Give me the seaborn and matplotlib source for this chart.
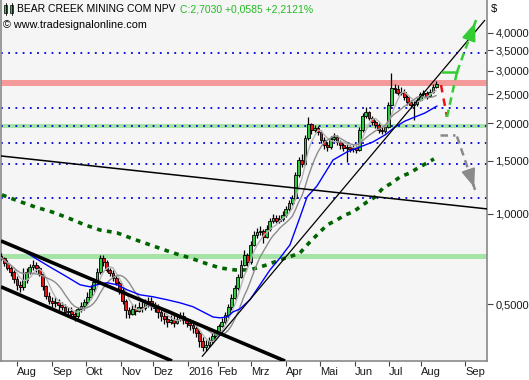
import numpy as np
import pandas as pd
import matplotlib
matplotlib.use('Agg')
import matplotlib.pyplot as plt
import matplotlib.ticker as mticker
from matplotlib.patches import Rectangle
import seaborn as sns

# candles, one every 2 trading days (x unit = trading day, 0 = mid Jul 2015)
first_open = 0.725
closes = [0.714, 0.687, 0.661, 0.641, 0.608, 0.581, 0.572, 0.603, 0.641, 0.666,
          0.677, 0.661, 0.632, 0.576, 0.534, 0.514, 0.506, 0.510, 0.498, 0.491,
          0.472, 0.476, 0.465, 0.458, 0.483, 0.494, 0.510, 0.530, 0.563, 0.594,
          0.641, 0.714, 0.692, 0.651, 0.636, 0.613, 0.590, 0.559, 0.514, 0.479,
          0.465, 0.483, 0.476, 0.491, 0.487, 0.506, 0.514, 0.498, 0.487, 0.472,
          0.458, 0.448, 0.437, 0.444, 0.434, 0.448, 0.458, 0.444, 0.434, 0.427,
          0.418, 0.402, 0.378, 0.361, 0.367, 0.381, 0.393, 0.405, 0.424, 0.437,
          0.461, 0.491, 0.526, 0.567, 0.617, 0.677, 0.731, 0.692, 0.789, 0.851,
          0.871, 0.878, 0.839, 0.891, 0.948, 0.970, 0.948, 0.962, 0.992, 1.039,
          1.088, 1.130, 1.348, 1.512, 1.470, 1.789, 1.992, 1.903, 1.932, 1.874,
          1.762, 1.696, 1.670, 1.776, 1.803, 1.735, 1.696, 1.658, 1.670, 1.645,
          1.658, 1.632, 1.903, 2.118, 2.184, 2.086, 2.023, 1.977, 1.903, 1.888,
          1.947, 2.304, 2.624, 2.604, 2.526, 2.545, 2.450, 2.357, 2.304, 2.322,
          2.394, 2.506, 2.526, 2.468, 2.545, 2.645, 2.703]
highs = [0.74, 0.72, 0.70, 0.67, 0.65, 0.62, 0.60, 0.66, 0.66, 0.68,
         0.70, 0.69, 0.67, 0.64, 0.58, 0.55, 0.53, 0.53, 0.52, 0.51,
         0.50, 0.49, 0.49, 0.48, 0.49, 0.51, 0.52, 0.55, 0.58, 0.61,
         0.66, 0.73, 0.73, 0.70, 0.66, 0.65, 0.62, 0.60, 0.57, 0.52,
         0.49, 0.50, 0.50, 0.51, 0.51, 0.52, 0.53, 0.53, 0.51, 0.50,
         0.48, 0.47, 0.46, 0.46, 0.46, 0.46, 0.47, 0.47, 0.45, 0.44,
         0.44, 0.43, 0.41, 0.39, 0.38, 0.39, 0.40, 0.41, 0.43, 0.45,
         0.47, 0.50, 0.54, 0.58, 0.63, 0.70, 0.76, 0.74, 0.81, 0.88,
         0.90, 0.91, 0.89, 0.92, 0.97, 1.00, 0.99, 0.99, 1.02, 1.06,
         1.11, 1.16, 1.38, 1.55, 1.58, 1.83, 2.10, 2.00, 1.98, 1.96,
         1.90, 1.80, 1.74, 1.82, 1.86, 1.83, 1.76, 1.72, 1.71, 1.70,
         1.69, 1.68, 1.94, 2.16, 2.26, 2.20, 2.12, 2.05, 2.00, 1.95,
         1.98, 2.35, 2.94, 2.70, 2.68, 2.64, 2.60, 2.48, 2.40, 2.37,
         2.43, 2.54, 2.58, 2.56, 2.60, 2.70, 2.76]
lows = [0.70, 0.67, 0.65, 0.62, 0.59, 0.56, 0.55, 0.56, 0.59, 0.63,
        0.65, 0.64, 0.62, 0.56, 0.52, 0.50, 0.49, 0.49, 0.48, 0.48,
        0.46, 0.46, 0.45, 0.44, 0.45, 0.47, 0.48, 0.50, 0.52, 0.55,
        0.58, 0.63, 0.67, 0.64, 0.62, 0.60, 0.58, 0.54, 0.50, 0.45,
        0.45, 0.46, 0.46, 0.47, 0.47, 0.48, 0.49, 0.48, 0.47, 0.45,
        0.44, 0.43, 0.42, 0.43, 0.42, 0.43, 0.44, 0.43, 0.42, 0.41,
        0.40, 0.39, 0.36, 0.35, 0.35, 0.36, 0.37, 0.38, 0.40, 0.42,
        0.43, 0.45, 0.48, 0.52, 0.56, 0.61, 0.67, 0.67, 0.68, 0.78,
        0.83, 0.85, 0.80, 0.83, 0.88, 0.93, 0.93, 0.93, 0.95, 0.98,
        1.02, 1.07, 1.12, 1.33, 1.43, 1.46, 1.76, 1.85, 1.87, 1.83,
        1.72, 1.64, 1.62, 1.65, 1.75, 1.70, 1.65, 1.62, 1.49, 1.61,
        1.61, 1.60, 1.62, 1.88, 2.08, 2.05, 1.98, 1.93, 1.86, 1.85,
        1.86, 1.93, 2.28, 2.52, 2.48, 2.48, 2.40, 2.30, 2.25, 2.05,
        2.28, 2.37, 2.47, 2.42, 2.44, 2.52, 2.62]

# blue moving average
blue_days = [0, 10, 20, 30.6, 41.3, 49.4, 55.6, 61.9, 66.3, 72.5, 78.8, 86.9, 95,
             103.8, 111.9, 120, 126.3, 132.5, 136.9, 141.3, 145, 149.4, 155.6,
             161.9, 168.1, 174.4, 180.6, 186.9, 191.3, 197.5, 207.5, 216.3, 224.4,
             232.5, 240, 246.3, 252.5, 258.8, 265, 272.5]
blue_vals = [0.813, 0.777, 0.720, 0.666, 0.617, 0.581, 0.572, 0.585, 0.590, 0.581,
             0.559, 0.538, 0.530, 0.518, 0.506, 0.491, 0.472, 0.454, 0.451, 0.454,
             0.472, 0.483, 0.518, 0.581, 0.651, 0.714, 0.789, 0.977, 1.139, 1.239,
             1.511, 1.608, 1.670, 1.736, 1.831, 1.947, 2.037, 2.102, 2.167, 2.286]

# 200 day average (dark green dotted)
ma200_days = [0.6, 10.6, 21.3, 31.9, 41.9, 52.5, 61.9, 72.5, 82.5, 93.1, 107.5,
              118.1, 128.8, 136.9, 146.3, 155.6, 166.3, 174.4, 181.9, 186.9,
              193.1, 197.5, 203.8, 210, 215, 220, 228.8, 233.8, 238.8, 244.4,
              249.4, 255.6, 260.6, 266.3, 270.6]
ma200_vals = [1.157, 1.105, 1.055, 1.015, 0.970, 0.919, 0.884, 0.865, 0.826, 0.789,
              0.742, 0.714, 0.682, 0.661, 0.651, 0.651, 0.677, 0.703, 0.725, 0.742,
              0.807, 0.851, 0.919, 0.955, 0.992, 1.015, 1.096, 1.139, 1.220, 1.268,
              1.328, 1.369, 1.422, 1.478, 1.524]

# trend lines (start day, start value, end day, end value)
channel_top = [(0, 0.813), (177.5, 0.324)]
channel_low = [(0, 0.572), (106.9, 0.324)]
long_line = [(0, 1.559), (303.75, 1.039)]
steep_line = [(125.6, 0.335), (302.5, 4.417)]

# horizontal zones and levels
red_zone = (2.665, 2.790)
green_zones = [(1.932, 1.992), (0.708, 0.736)]
dotted_levels = [3.431, 2.252, 1.960, 1.722, 1.466, 1.130]

# projections on the right
red_proj = [(275, 2.685), (278.75, 2.102)]
green_proj = [(278.75, 2.102), (285, 2.966)]
green_flat = [(275.6, 2.966), (285, 2.966)]
green_arrow = [(285, 2.966), (296.9, 4.417)]
gray_flat = [(274.4, 1.831), (283.8, 1.831)]
gray_arrow = [(285, 1.81), (296.3, 1.202)]

month_pos = [10, 31.9, 53.1, 75, 95, 116.9, 135.6, 156.3, 178.1, 199.4, 221.3,
             242.5, 262.5, 290]
month_lbl = ['Aug', 'Sep', 'Okt', 'Nov', 'Dez', '2016', 'Feb', 'Mrz', 'Apr',
             'Mai', 'Jun', 'Jul', 'Aug', 'Sep']
y_ticks = [0.5, 1.0, 1.5, 2.0, 2.5, 3.0, 3.5, 4.0]

sns.set_style('white')
plt.rcParams['font.family'] = ['Liberation Sans', 'DejaVu Sans']

fig = plt.figure(figsize=(5.29, 3.80), dpi=100)
ax = fig.add_axes([1/529, 19/380, 486/529, 361/380])
ax.set_facecolor('#f5f5f5')
ax.set_yscale('log')
ax.set_xlim(0, 303.75)
ax.set_ylim(0.324, 5.15)

# zones / levels
ax.axhspan(*red_zone, color='#f59a9a', lw=0, zorder=1)
for lo, hi in green_zones:
    ax.axhspan(lo, hi, color='#a6e3a6', lw=0, zorder=1)
for lv in dotted_levels:
    ax.axhline(lv, color='#0000e0', ls=(0, (1, 3)), lw=1.3, zorder=1.5)

# 200 MA
sns.lineplot(x=ma200_days, y=ma200_vals, ax=ax, color='#006400', lw=2.6,
             ls=(0, (1.3, 1.5)), zorder=3)

# candles
df = pd.DataFrame({'c': closes, 'h': highs, 'l': lows})
df['o'] = [first_open] + closes[:-1]
df['x'] = np.arange(len(df)) * 2
up = df['c'] >= df['o']
ax.vlines(df['x'], df['l'], df['h'], color='black', lw=0.9, zorder=4)
ax.bar(df['x'], (df['c'] - df['o']).abs(), bottom=df[['c', 'o']].min(axis=1),
       width=1.75, color=np.where(up, '#2ecc40', '#ee1111'), edgecolor='black',
       lw=0.6, zorder=5)

# averages
df['ma10'] = df['c'].rolling(5, min_periods=1).mean()
df['ma20'] = df['c'].rolling(10, min_periods=1).mean()
sns.lineplot(data=df, x='x', y='ma10', ax=ax, color='#b4b4b4', lw=1, zorder=6)
sns.lineplot(data=df, x='x', y='ma20', ax=ax, color='#8c8c8c', lw=1, zorder=6)
sns.lineplot(x=blue_days, y=blue_vals, ax=ax, color='#0000ff', lw=1, zorder=6)

# trend lines
for pts, lw in [(channel_top, 2.6), (channel_low, 2.6), (long_line, 1.1),
                (steep_line, 0.9)]:
    ax.plot([p[0] for p in pts], [p[1] for p in pts], color='black', lw=lw,
            zorder=7, solid_capstyle='butt')

# projections
def seg(pts, color, ls, lw=1.8):
    ax.plot([p[0] for p in pts], [p[1] for p in pts], color=color, ls=ls, lw=lw,
            zorder=8)

def head(pts, color):
    (x0, y0), (x1, y1) = pts
    ax.annotate('', xy=(x1, y1), xytext=(x0 + 0.85 * (x1 - x0), y0 * (y1 / y0) ** 0.85),
                arrowprops=dict(arrowstyle='-|>,head_width=0.35,head_length=0.9',
                                color=color, lw=1.5, mutation_scale=12), zorder=9)

seg(red_proj, '#ee1111', (0, (3, 2.5)))
seg(green_proj, '#33cc33', (0, (3, 2)))
seg(green_flat, '#33cc33', '-')
seg(green_arrow, '#33cc33', (0, (3, 2)))
head(green_arrow, '#33cc33')
seg(gray_flat, '#8a8a8a', (0, (3, 2)))
seg(gray_arrow, '#8a8a8a', (0, (3, 2)))
head(gray_arrow, '#8a8a8a')

# axes styling
for s in ['left', 'bottom', 'right']:
    ax.spines[s].set_color('#8a8a8a')
    ax.spines[s].set_linewidth(1.2)
ax.spines['top'].set_visible(False)

ax.yaxis.tick_right()
ax.set_yticks(y_ticks)
ax.set_yticklabels([f'{v:.4f}'.replace('.', ',') for v in y_ticks])
ax.yaxis.set_minor_locator(mticker.NullLocator())
ax.tick_params(axis='y', right=True, left=False, length=4, width=0.8,
               color='#444444', pad=2, labelsize=8, labelcolor='#1a1a1a')
ax.set_xticks(month_pos)
ax.set_xticklabels(month_lbl, ha='left')
ax.tick_params(axis='x', bottom=True, length=3.5, width=0.8, color='#444444',
               pad=1, labelsize=8, labelcolor='#1a1a1a')
ax.set_xlabel('')
ax.set_ylabel('')

# header
name = fig.text(17/529, 1 - 9/380, 'BEAR CREEK MINING COM NPV', fontsize=7.5,
                va='center', color='black')
fig.canvas.draw()
x_end = name.get_window_extent().x1 + 4
fig.text(x_end / 529, 1 - 9/380, 'C:2,7030 +0,0585 +2,2121%', fontsize=7.5,
         va='center', color='#22bb22')
fig.text(3/529, 1 - 25/380, '\u00a9 www.tradesignalonline.com', fontsize=7.8,
         va='center', color='black')
fig.text(491/529, 1 - 9/380, '$', fontsize=8, va='center', color='black')

# small candle icon
for x0 in (4, 10):
    fig.add_artist(plt.Line2D([(x0 + 1.5) / 529] * 2, [1 - 15/380, 1 - 3/380],
                              color='black', lw=0.6, transform=fig.transFigure))
    fig.add_artist(Rectangle((x0 / 529, 1 - 13/380), 3/529, 8/380,
                             transform=fig.transFigure, fc='#2ecc40',
                             ec='black', lw=0.5))

fig.savefig('out.png', dpi=100)
